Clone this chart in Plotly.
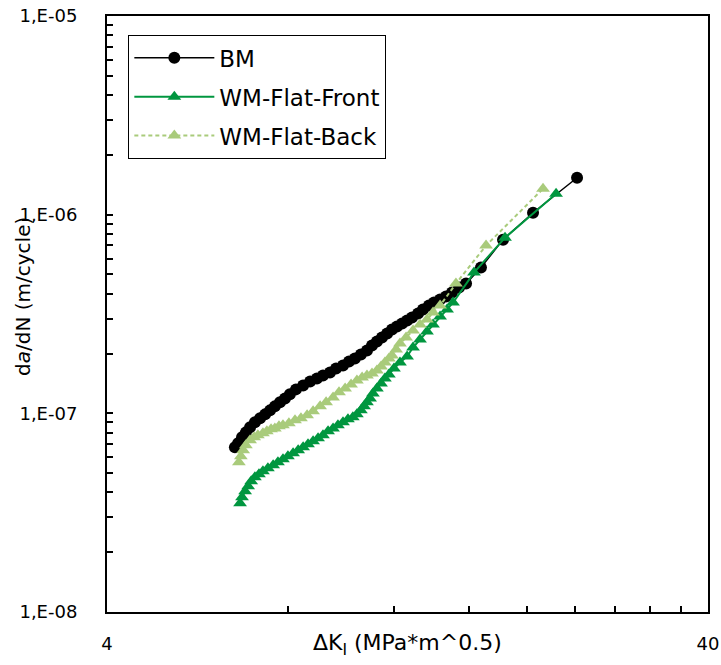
import plotly.graph_objects as go

# ---- data ----
bm_dk = [6.53, 6.61, 6.71, 6.81, 6.92, 7.05, 7.19, 7.33, 7.47, 7.61, 7.76, 7.91,
         8.06, 8.25, 8.48, 8.71, 8.94, 9.15, 9.40, 9.62, 9.88, 10.11, 10.34, 10.58,
         10.83, 11.04, 11.25, 11.47, 11.70, 11.92, 12.15, 12.39, 12.63, 12.87, 13.17,
         13.42, 13.73, 14.00, 14.33, 14.66, 15.00, 15.41, 15.83, 16.76, 18.24, 20.46,
         24.22]
bm_dadn = [6.75e-8, 7.07e-8, 7.57e-8, 8.02e-8, 8.50e-8, 9.01e-8, 9.44e-8, 9.88e-8,
           1.035e-7, 1.084e-7, 1.136e-7, 1.189e-7, 1.246e-7, 1.320e-7, 1.382e-7,
           1.448e-7, 1.499e-7, 1.552e-7, 1.607e-7, 1.683e-7, 1.742e-7, 1.825e-7,
           1.889e-7, 1.979e-7, 2.072e-7, 2.196e-7, 2.300e-7, 2.409e-7, 2.523e-7,
           2.642e-7, 2.735e-7, 2.832e-7, 2.932e-7, 3.036e-7, 3.179e-7, 3.330e-7,
           3.487e-7, 3.611e-7, 3.738e-7, 3.870e-7, 4.053e-7, 4.295e-7, 4.498e-7,
           5.415e-7, 7.487e-7, 1.023e-6, 1.534e-6]

front_dk = [6.66, 6.71, 6.79, 6.87, 6.95, 7.05, 7.16, 7.27, 7.41, 7.56, 7.70, 7.85,
            8.00, 8.16, 8.32, 8.48, 8.64, 8.81, 8.98, 9.15, 9.33, 9.51, 9.69, 9.88,
            10.07, 10.26, 10.42, 10.58, 10.71, 10.83, 10.96, 11.08, 11.25, 11.43,
            11.60, 11.78, 12.01, 12.29, 12.63, 12.92, 13.27, 13.63, 13.95, 14.33,
            14.72, 15.06, 16.32, 18.38, 22.35]
front_dadn = [3.53e-8, 3.78e-8, 4.05e-8, 4.29e-8, 4.55e-8, 4.77e-8, 4.93e-8, 5.11e-8,
              5.29e-8, 5.48e-8, 5.67e-8, 5.87e-8, 6.08e-8, 6.29e-8, 6.52e-8, 6.75e-8,
              6.99e-8, 7.24e-8, 7.49e-8, 7.76e-8, 8.12e-8, 8.40e-8, 8.70e-8, 9.01e-8,
              9.33e-8, 9.55e-8, 9.88e-8, 1.035e-7, 1.084e-7, 1.136e-7, 1.189e-7,
              1.260e-7, 1.335e-7, 1.414e-7, 1.499e-7, 1.570e-7, 1.683e-7, 1.804e-7,
              1.934e-7, 2.145e-7, 2.353e-7, 2.582e-7, 2.800e-7, 3.071e-7, 3.330e-7,
              3.611e-7, 5.11e-7, 7.66e-7, 1.275e-6]

back_dk = [6.63, 6.68, 6.74, 6.81, 6.92, 7.03, 7.13, 7.27, 7.38, 7.50, 7.61, 7.73,
           7.85, 8.03, 8.22, 8.41, 8.61, 8.81, 9.05, 9.26, 9.51, 9.73, 9.96, 10.19,
           10.42, 10.63, 10.83, 11.04, 11.25, 11.43, 11.60, 11.78, 11.92, 12.11,
           12.29, 12.58, 12.92, 13.27, 13.63, 13.95, 14.33, 15.23, 17.09, 21.26]
back_dadn = [5.67e-8, 6.08e-8, 6.52e-8, 6.91e-8, 7.32e-8, 7.57e-8, 7.76e-8, 7.93e-8,
             8.12e-8, 8.31e-8, 8.40e-8, 8.60e-8, 8.70e-8, 8.91e-8, 9.22e-8, 9.44e-8,
             9.77e-8, 1.023e-7, 1.084e-7, 1.136e-7, 1.203e-7, 1.275e-7, 1.335e-7,
             1.398e-7, 1.465e-7, 1.517e-7, 1.552e-7, 1.589e-7, 1.644e-7, 1.722e-7,
             1.804e-7, 1.889e-7, 1.957e-7, 2.097e-7, 2.247e-7, 2.409e-7, 2.613e-7,
             2.800e-7, 2.966e-7, 3.216e-7, 3.487e-7, 4.498e-7, 6.99e-7, 1.351e-6]

x_ticks = [4, 40]
x_tick_labels = ["4", "40"]
x_minor_ticks = [8, 12, 16, 20, 24, 28, 32, 36]
y_ticks = [1e-8, 1e-7, 1e-6, 1e-5]
y_tick_labels = ["1,E-08", "1,E-07", "1,E-06", "1,E-05"]
y_minor_ticks = [m * 10.0 ** e for e in (-8, -7, -6) for m in range(2, 10)]

FONT = "DejaVu Sans"
fig = go.Figure()
fig.add_trace(go.Scatter(x=bm_dk, y=bm_dadn, name="BM", mode="lines+markers",
                         legendgroup="a",
                         line=dict(color="black", width=1.5),
                         marker=dict(symbol="circle", size=12, color="black")))
fig.add_trace(go.Scatter(x=front_dk, y=front_dadn, name="WM-Flat-Front", mode="lines+markers",
                         legendgroup="b",
                         line=dict(color="#00963F", width=2),
                         marker=dict(symbol="triangle-up", size=12, color="#00963F")))
fig.add_trace(go.Scatter(x=back_dk, y=back_dadn, name="WM-Flat-Back", mode="lines+markers",
                         legendgroup="c",
                         line=dict(color="#A9CB7B", width=2, dash="4px,3px"),
                         marker=dict(symbol="triangle-up", size=12, color="#A9CB7B")))

fig.update_layout(
    width=721, height=665,
    margin=dict(l=107, r=13, t=16, b=53),
    paper_bgcolor="white", plot_bgcolor="white",
    font=dict(family=FONT, size=18, color="black"),
    showlegend=True,
    legend=dict(x=0.035, y=0.968, xanchor="left", yanchor="top",
                bordercolor="black", borderwidth=1.3, bgcolor="white",
                font=dict(family=FONT, size=23), itemwidth=80,
                tracegroupgap=6),
    annotations=[
        dict(text="ΔK<sub>I</sub> (MPa*m^0.5)", xref="paper", yref="paper",
             x=0.5, y=-0.054, xanchor="center", yanchor="middle", showarrow=False,
             font=dict(family=FONT, size=22)),
        dict(text="d<i>a</i>/dN (m/cycle)", xref="paper", yref="paper",
             x=-0.14, y=0.53, xanchor="center", yanchor="middle", showarrow=False,
             textangle=-90, font=dict(family=FONT, size=20)),
    ],
)
fig.update_xaxes(type="log", range=[0.60206, 1.60206], automargin=False,
                 tickvals=x_ticks, ticktext=x_tick_labels,
                 ticks="inside", ticklen=6, tickwidth=1.5, tickcolor="black",
                 minor=dict(tickmode="array", tickvals=x_minor_ticks, ticks="inside",
                            ticklen=6, tickwidth=1.5, tickcolor="black", showgrid=False),
                 showline=True, linecolor="black", linewidth=2, mirror=True,
                 showgrid=False, zeroline=False, ticklabelstandoff=14)
fig.update_yaxes(type="log", range=[-8, -5], automargin=False,
                 tickvals=y_ticks, ticktext=y_tick_labels,
                 ticks="inside", ticklen=6, tickwidth=1.5, tickcolor="black",
                 minor=dict(tickmode="array", tickvals=y_minor_ticks, ticks="inside",
                            ticklen=6, tickwidth=1.5, tickcolor="black", showgrid=False),
                 showline=True, linecolor="black", linewidth=2, mirror=True,
                 showgrid=False, zeroline=False, ticklabelstandoff=24)

fig.write_html("out.html", config={"displayModeBar": False},
               post_script="document.body.style.margin='0';")
